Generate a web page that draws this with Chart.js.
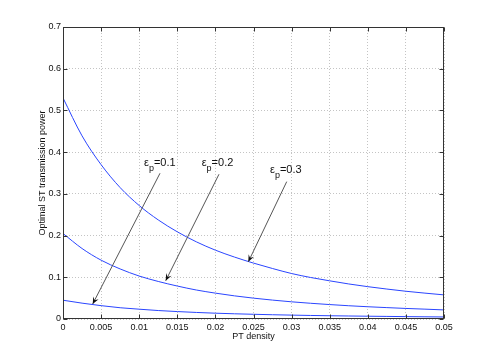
<!DOCTYPE html>
<html><head><meta charset="utf-8">
<script src="https://cdn.jsdelivr.net/npm/chart.js@4.4.0/dist/chart.umd.min.js"></script>
<style>html,body{margin:0;padding:0;background:#fff;}canvas{display:block;}</style>
</head><body>
<canvas id="c" width="491" height="359"></canvas>
<script>
// ---- data ----
const xValues = [0, 0.0025, 0.005, 0.0075, 0.01, 0.0125, 0.015, 0.0175, 0.02, 0.0225, 0.025,
                 0.0275, 0.03, 0.0325, 0.035, 0.0375, 0.04, 0.0425, 0.045, 0.0475, 0.05];
const power01 = [0.045, 0.038, 0.032, 0.027, 0.0235, 0.0203, 0.0178, 0.0157, 0.0139, 0.0125, 0.0113,
                 0.0102, 0.0093, 0.0085, 0.0078, 0.0072, 0.0067, 0.0062, 0.0057, 0.0053, 0.0049];
const power02 = [0.205, 0.169, 0.141, 0.120, 0.103, 0.090, 0.079, 0.0695, 0.062, 0.0555, 0.050,
                 0.0453, 0.0412, 0.0377, 0.0346, 0.0318, 0.0294, 0.0273, 0.0253, 0.0236, 0.0218];
const power03 = [0.530, 0.439, 0.370, 0.315, 0.272, 0.2375, 0.209, 0.185, 0.165, 0.1485, 0.134,
                 0.121, 0.109, 0.0995, 0.0915, 0.084, 0.0775, 0.0718, 0.0665, 0.062, 0.0578];
const xTicks = [0, 0.005, 0.01, 0.015, 0.02, 0.025, 0.03, 0.035, 0.04, 0.045, 0.05];
const xTickLabels = ['0', '0.005', '0.01', '0.015', '0.02', '0.025', '0.03', '0.035', '0.04', '0.045', '0.05'];
const yTicks = [0, 0.1, 0.2, 0.3, 0.4, 0.5, 0.6, 0.7];
const yTickLabels = ['0', '0.1', '0.2', '0.3', '0.4', '0.5', '0.6', '0.7'];
const epsValues = ['0.1', '0.2', '0.3'];
const xTitle = 'PT density';
const yTitle = 'Optimal ST transmission power';

// annotation placement (data units)
const notes = [
  {label: epsValues[0], at: [0.01063, 0.3676], from: [0.01273, 0.3494], to: [0.0039, 0.036]},
  {label: epsValues[1], at: [0.0182, 0.3657], from: [0.02047, 0.3470], to: [0.01348, 0.0918]},
  {label: epsValues[2], at: [0.02717, 0.3490], from: [0.02936, 0.3293], to: [0.02432, 0.137]}
];

const FONT = "'Liberation Sans', Arial, Helvetica, sans-serif";
const LINE = '#2a45ff';

function mk(vals) { return xValues.map((x, i) => ({x: x, y: vals[i]})); }
function lookup(ticks, labels) {
  return v => { const i = ticks.findIndex(t => Math.abs(t - v) < 1e-9); return i >= 0 ? labels[i] : ''; };
}

const boxPlugin = {
  id: 'matlabBox',
  afterDatasetsDraw(chart) {
    const ctx = chart.ctx;
    const sx = chart.scales.x, sy = chart.scales.y;
    const {left, right, top, bottom} = chart.chartArea;
    const L = Math.round(left) + 0.5, R = Math.round(right) - 0.5, T = Math.round(top) + 0.5, B = Math.round(bottom) - 0.5;
    ctx.save();
    // annotations
    notes.forEach(n => {
      const x0 = sx.getPixelForValue(n.from[0]), y0 = sy.getPixelForValue(n.from[1]);
      const x1 = sx.getPixelForValue(n.to[0]), y1 = sy.getPixelForValue(n.to[1]);
      ctx.strokeStyle = '#555'; ctx.lineWidth = 1;
      ctx.beginPath(); ctx.moveTo(x0, y0); ctx.lineTo(x1, y1); ctx.stroke();
      const a = Math.atan2(y1 - y0, x1 - x0);
      const len = 7, wid = 3;
      ctx.fillStyle = '#111';
      ctx.beginPath();
      ctx.moveTo(x1, y1);
      ctx.lineTo(x1 - len * Math.cos(a) + wid * Math.sin(a), y1 - len * Math.sin(a) - wid * Math.cos(a));
      ctx.lineTo(x1 - 0.6 * len * Math.cos(a), y1 - 0.6 * len * Math.sin(a));
      ctx.lineTo(x1 - len * Math.cos(a) - wid * Math.sin(a), y1 - len * Math.sin(a) + wid * Math.cos(a));
      ctx.closePath(); ctx.fill();
      // label: ε_p=value
      let tx = sx.getPixelForValue(n.at[0]);
      const ty = sy.getPixelForValue(n.at[1]);
      ctx.fillStyle = '#111'; ctx.textBaseline = 'alphabetic'; ctx.textAlign = 'left';
      ctx.font = '11px ' + FONT;
      ctx.fillText('ε', tx, ty); tx += ctx.measureText('ε').width;
      ctx.font = '9px ' + FONT;
      ctx.fillText('p', tx, ty + 5); tx += ctx.measureText('p').width;
      ctx.font = '11px ' + FONT;
      ctx.fillText('=' + n.label, tx, ty);
    });
    // axes box
    ctx.strokeStyle = '#333'; ctx.lineWidth = 1;
    ctx.strokeRect(L, T, R - L, B - T);
    // inner tick marks (both sides)
    const tl = 4;
    ctx.beginPath();
    sx.ticks.forEach(t => {
      const p = Math.round(sx.getPixelForValue(t.value)) + 0.5;
      ctx.moveTo(p, B); ctx.lineTo(p, B - tl);
      ctx.moveTo(p, T); ctx.lineTo(p, T + tl);
    });
    sy.ticks.forEach(t => {
      const p = Math.round(sy.getPixelForValue(t.value)) + 0.5;
      ctx.moveTo(L, p); ctx.lineTo(L + tl, p);
      ctx.moveTo(R, p); ctx.lineTo(R - tl, p);
    });
    ctx.stroke();
    ctx.restore();
  }
};

const ds = (vals, name) => ({
  label: name, data: mk(vals), showLine: true, borderColor: LINE, backgroundColor: LINE,
  borderWidth: 1, pointRadius: 0, fill: false, cubicInterpolationMode: 'monotone'
});

new Chart(document.getElementById('c'), {
  type: 'scatter',
  data: {
    datasets: [
      ds(power03, 'ε_p=' + epsValues[2]),
      ds(power02, 'ε_p=' + epsValues[1]),
      ds(power01, 'ε_p=' + epsValues[0])
    ]
  },
  options: {
    responsive: false, animation: false,
    layout: {padding: {left: 0, top: 27, right: 47, bottom: 0}},
    plugins: {legend: {display: false}, tooltip: {enabled: false}},
    scales: {
      x: {
        type: 'linear', min: 0, max: 0.05,
        afterFit: s => { s.height = 40; },
        afterBuildTicks: s => { s.ticks = xTicks.map(v => ({value: v})); },
        ticks: {callback: lookup(xTicks, xTickLabels), font: {family: FONT, size: 9}, color: '#111',
                padding: 3, maxRotation: 0, autoSkip: false},
        grid: {color: '#c4c4c4', lineWidth: 1, drawTicks: false},
        border: {display: false, dash: [1, 2]},
        title: {display: true, text: xTitle, font: {family: FONT, size: 9}, color: '#111', padding: {top: 0, bottom: 17}}
      },
      y: {
        type: 'linear', min: 0, max: 0.7,
        afterFit: s => { s.width = 63; },
        afterBuildTicks: s => { s.ticks = yTicks.map(v => ({value: v})); },
        ticks: {callback: lookup(yTicks, yTickLabels), font: {family: FONT, size: 9}, color: '#111', padding: 2},
        grid: {color: '#c4c4c4', lineWidth: 1, drawTicks: false},
        border: {display: false, dash: [1, 2]},
        title: {display: true, text: yTitle, font: {family: FONT, size: 9}, color: '#111', padding: {top: 37, bottom: 0}}
      }
    }
  },
  plugins: [boxPlugin]
});
</script>
</body></html>
